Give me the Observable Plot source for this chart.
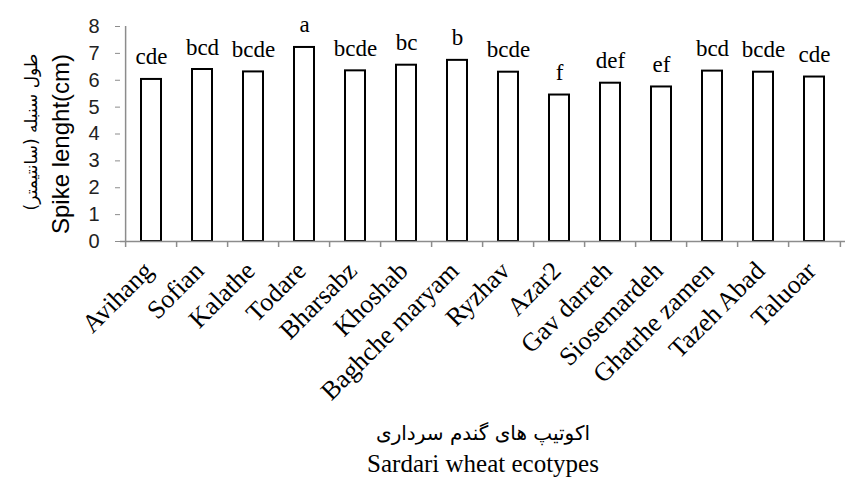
<!DOCTYPE html>
<html>
<head>
<meta charset="utf-8">
<script src="https://cdn.jsdelivr.net/npm/d3@7"></script>
<script src="https://cdn.jsdelivr.net/npm/@observablehq/plot@0.6"></script>
<style>
  html, body { margin: 0; padding: 0; background: #fff; }
  #chart { width: 847px; height: 482px; }
</style>
</head>
<body>
<div id="chart"></div>
<script>
const ecotypes = ["Avihang", "Sofian", "Kalathe", "Todare", "Bharsabz", "Khoshab", "Baghche maryam", "Ryzhav", "Azar2", "Gav darreh", "Siosemardeh", "Ghatrhe zamen", "Tazeh Abad", "Taluoar"];
const spikeLength = [6.03, 6.40, 6.31, 7.22, 6.35, 6.56, 6.74, 6.30, 5.45, 5.89, 5.75, 6.34, 6.30, 6.12];
const groups = ["cde", "bcd", "bcde", "a", "bcde", "bc", "b", "bcde", "f", "def", "ef", "bcd", "bcde", "cde"];
const yTicks = [0, 1, 2, 3, 4, 5, 6, 7, 8];
const yTitleEn = "Spike lenght(cm)";
const yTitleFa = "طول سنبله (سانتیمتر)";
const xTitleFa = "اکوتیپ های گندم سرداری";
const xTitleEn = "Sardari wheat ecotypes";

const data = ecotypes.map((e, i) => ({ecotype: e, value: spikeLength[i], group: groups[i]}));

const W = 847, H = 482;
const mL = 120, mR = 2, mT = 26, mB = 241;
const step = (W - mL - mR) / ecotypes.length;
const axisColor = "#8c8c8c";
const serif = "'Liberation Serif', 'Times New Roman', serif";
const sans = "'Liberation Sans', Arial, sans-serif";
const arabic = "'DejaVu Sans', sans-serif";

const chart = Plot.plot({
  width: W,
  height: H,
  marginLeft: mL,
  marginRight: mR,
  marginTop: mT,
  marginBottom: mB,
  style: {background: "#fff", color: "#000", overflow: "visible"},
  x: {domain: ecotypes, padding: 0.6, paddingOuter: 0.3, align: 0.5},
  y: {domain: [0, 8]},
  marks: [
    Plot.barY(data, {x: "ecotype", y: "value", fill: "#fff", stroke: "#000", strokeWidth: 2}),
    Plot.text(data, {x: "ecotype", y: "value", text: "group", lineAnchor: "bottom", dy: -15, fontSize: 23, fontFamily: serif, fill: "#000"}),
    // y axis
    Plot.axisY({ticks: yTicks, tickSize: 5, tickPadding: 16, stroke: axisColor, fontSize: 20, fontFamily: sans, fill: "#222", label: null}),
    Plot.ruleX([ecotypes[0]], {x: d => d, y1: 0, y2: 8, dx: -step / 2, stroke: axisColor, strokeWidth: 1.5}),
    Plot.ruleY([0], {stroke: axisColor, strokeWidth: 1.5}),
    // band boundary ticks
    Plot.axisX({ticks: ecotypes, tickSize: 6, text: null, stroke: axisColor, strokeWidth: 1.5, dx: -step / 2, label: null}),
    Plot.axisX({ticks: ecotypes.slice(-1), tickSize: 6, text: null, stroke: axisColor, strokeWidth: 1.5, dx: step / 2, label: null}),
    // x tick labels
    Plot.axisX({ticks: ecotypes, tickSize: 0, tickPadding: 25, tickRotate: -45, dx: -3, fontSize: 26, fontFamily: serif, fill: "#000", label: null}),
    // axis titles
    Plot.text([yTitleEn], {frameAnchor: "left", textAnchor: "middle", lineAnchor: "middle", rotate: -90, dx: -59, dy: 10, fontSize: 24, fontFamily: sans, fill: "#000"}),
    Plot.text([yTitleFa], {frameAnchor: "left", textAnchor: "middle", lineAnchor: "middle", rotate: -90, dx: -89, dy: -2, fontSize: 17, fontFamily: arabic, fill: "#000"}),
    Plot.text([xTitleFa], {frameAnchor: "bottom", lineAnchor: "middle", dy: 192, fontSize: 20, fontFamily: arabic, fill: "#000"}),
    Plot.text([xTitleEn], {frameAnchor: "bottom", lineAnchor: "middle", dy: 222, fontSize: 25, fontFamily: serif, fill: "#000"})
  ]
});
document.getElementById("chart").appendChild(chart);
</script>
</body>
</html>
